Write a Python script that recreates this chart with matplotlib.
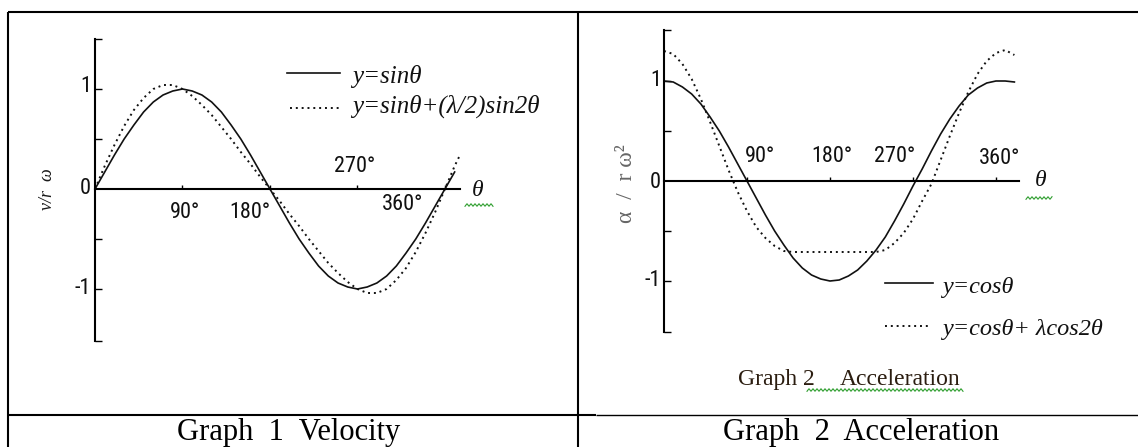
import numpy as np
import matplotlib
matplotlib.use("Agg")
import matplotlib.pyplot as plt

W, H = 1138, 447

# Graph 1 - velocity, y = sin(theta) and y = sin(theta) + (lambda/2) sin(2 theta)
vel_theta = [0, 10, 20, 30, 40, 50, 60, 70, 80, 90, 100, 110, 120, 130, 140, 150, 160, 170, 180,
             190, 200, 210, 220, 230, 240, 250, 260, 270, 280, 290, 300, 310, 320, 330, 340, 350,
             360, 370]
vel_sin = [0.00, 0.17, 0.34, 0.50, 0.64, 0.77, 0.87, 0.94, 0.98, 1.00, 0.98, 0.94, 0.87, 0.77,
           0.64, 0.50, 0.34, 0.17, 0.00, -0.17, -0.34, -0.50, -0.64, -0.77, -0.87, -0.94, -0.98,
           -1.00, -0.98, -0.94, -0.87, -0.77, -0.64, -0.50, -0.34, -0.17, 0.00, 0.17]
vel_theta2 = [0, 10, 20, 30, 40, 50, 60, 70, 80, 90, 100, 110, 120, 130, 140, 150, 160, 170, 180,
              190, 200, 210, 220, 230, 240, 250, 260, 270, 280, 290, 300, 310, 320, 330, 340, 350,
              360, 370, 375]
vel_mod = [0.00, 0.23, 0.44, 0.63, 0.79, 0.91, 1.00, 1.04, 1.04, 1.00, 0.93, 0.84, 0.74, 0.62,
           0.50, 0.37, 0.25, 0.12, 0.00, -0.12, -0.25, -0.37, -0.50, -0.62, -0.74, -0.84, -0.93,
           -1.00, -1.04, -1.04, -1.00, -0.91, -0.79, -0.63, -0.44, -0.23, 0.00, 0.23, 0.33]

# Graph 2 - acceleration, y = cos(theta) and y = cos(theta) + lambda cos(2 theta)
acc_theta = [0, 10, 20, 30, 40, 50, 60, 70, 80, 90, 100, 110, 120, 130, 140, 150, 160, 170, 180,
             190, 200, 210, 220, 230, 240, 250, 260, 270, 280, 290, 300, 310, 320, 330, 340, 350,
             360, 370, 380]
acc_cos = [1.00, 0.99, 0.94, 0.87, 0.77, 0.64, 0.50, 0.34, 0.17, 0.00, -0.17, -0.34, -0.50,
           -0.64, -0.77, -0.87, -0.94, -0.98, -1.00, -0.99, -0.95, -0.89, -0.80, -0.69, -0.56,
           -0.40, -0.23, -0.05, 0.12, 0.30, 0.47, 0.62, 0.75, 0.86, 0.93, 0.98, 1.00, 1.00, 0.99]
acc_mod = [1.30, 1.27, 1.17, 1.02, 0.82, 0.59, 0.35, 0.11, -0.11, -0.30, -0.46, -0.57, -0.65,
           -0.70, -0.71, -0.71, -0.71, -0.71, -0.71, -0.71, -0.71, -0.71, -0.71, -0.71, -0.69,
           -0.62, -0.52, -0.38, -0.20, -0.03, 0.21, 0.45, 0.68, 0.89, 1.07, 1.20, 1.28, 1.31, 1.26]

deg_ticks = [90, 180, 270, 360]
deg_labels = ["90°", "180°", "270°", "360°"]
val_ticks = [1, 0, -1]
val_labels = ["1", "0", "-1"]

NARROW = ["Liberation Sans Narrow", "Roboto Condensed", "Liberation Sans", "DejaVu Sans"]
SERIF = ["Liberation Serif", "DejaVu Serif"]
INK = "#111111"

fig = plt.figure(figsize=(W / 100, H / 100), dpi=100)

# page layer in pixel units (table rules, captions)
bg = fig.add_axes([0, 0, 1, 1])
bg.set_xlim(0, W)
bg.set_ylim(H, 0)
bg.axis("off")


def px_axes(left, top, right, bottom):
    return fig.add_axes([left / W, 1 - bottom / H, (right - left) / W, (bottom - top) / H])


def squiggle(x0, x1, y):
    xs = np.arange(x0, x1 + 0.1, 2.0)
    ys = y + np.where(np.arange(len(xs)) % 2 == 0, 1.3, -1.3)
    bg.plot(xs, ys, color="#2e9e2e", lw=0.8, solid_joinstyle="miter")


def setup(ax, xmax, ylo, yhi):
    ax.set_xlim(0, xmax)
    ax.set_ylim(ylo, yhi)
    ax.patch.set_visible(False)
    for s in ("top", "right"):
        ax.spines[s].set_visible(False)
    ax.spines["bottom"].set_position(("data", 0))
    ax.spines["left"].set_linewidth(1.5)
    ax.spines["bottom"].set_linewidth(1.5)
    ax.set_xticks(deg_ticks)
    ax.set_yticks([ylo, -1, -0.5, 0.5, 1, yhi])
    ax.tick_params(axis="x", direction="in", length=3, width=1, labelbottom=False)
    ax.tick_params(axis="y", direction="in", length=5, width=1, labelleft=False)


def tick_text(ax, xoffs, yoffs, ydx, ydy):
    for v, lab, dx, dy in zip(deg_ticks, deg_labels, xoffs, yoffs):
        ax.annotate(lab, (v, 0), xytext=(dx, dy), textcoords="offset pixels",
                    ha="center", va="center", fontsize=16, family=NARROW,
                    fontstretch="condensed", color=INK)
    for v, lab, dy in zip(val_ticks, val_labels, ydy):
        ax.annotate(lab, (0, v), xytext=(ydx, dy), textcoords="offset pixels",
                    ha="right", va="center", fontsize=16, family=NARROW,
                    fontstretch="condensed", color=INK)


# table rules
bg.plot([8, W], [12, 12], color="black", lw=1.5, solid_capstyle="butt")
bg.plot([8, 8], [12, H], color="black", lw=1.5, solid_capstyle="butt")
bg.plot([578, 578], [12, H], color="black", lw=1.5, solid_capstyle="butt")
bg.plot([8, 596], [414.5, 414.5], color="black", lw=1.5, solid_capstyle="butt")
bg.plot([596, W], [414.5, 414.5], color="black", lw=1.0, solid_capstyle="butt")

# captions
bg.text(289, 440, "Graph  1  Velocity", ha="center", va="baseline", fontsize=22,
        family=SERIF, color="black")
bg.text(861, 440, "Graph  2  Acceleration", ha="center", va="baseline", fontsize=22,
        family=SERIF, color="black")

# ---- graph 1 ----
ax1 = px_axes(95, 39, 460, 341)
setup(ax1, 375.5, -1.52, 1.50)
ax1.plot(vel_theta, vel_sin, color=INK, lw=1.2, clip_on=False)
ax1.plot(vel_theta2, vel_mod, color=INK, lw=1.4, ls=(0, (1, 2)), clip_on=False)
tick_text(ax1, [2.5, -20, -2.5, -42], [-23, -23, 22, -16], -4, [2, 1, 0])

bg.plot([287, 340], [73, 73], color=INK, lw=1.2)
bg.plot([290, 340], [108, 108], color=INK, lw=1.4, ls=(0, (1, 2)))
bg.text(352, 83, "y=sinθ", fontsize=18, style="italic", family=SERIF, va="baseline",
        color=INK)
bg.text(352, 113, "y=sinθ+(λ/2)sin2θ", fontsize=18, style="italic", family=SERIF,
        va="baseline", color=INK)
bg.text(478, 190, "θ", fontsize=17, style="italic", family=SERIF, ha="center", va="center",
        color=INK)
squiggle(465, 493, 205)
bg.text(48, 189, "v/r  ω", fontsize=13, style="italic", family=SERIF, rotation=90,
        ha="center", va="center", color="#1a1a1a")

# ---- graph 2 ----
ax2 = px_axes(664, 30, 1019, 332)
setup(ax2, 385, -1.51, 1.51)
ax2.plot(acc_theta, acc_cos, color=INK, lw=1.2, clip_on=False)
ax2.plot(acc_theta, acc_mod, color=INK, lw=1.4, ls=(0, (1, 2)), clip_on=False)
tick_text(ax2, [13, 2, -18, 4], [24, 24, 24, 23], -3, [1, -1, 0])

bg.plot([885, 933], [283, 283], color=INK, lw=1.2)
bg.plot([885, 930], [326, 326], color=INK, lw=1.4, ls=(0, (1, 2)))
bg.text(942, 293, "y=cosθ", fontsize=17.5, style="italic", family=SERIF, va="baseline",
        color=INK)
bg.text(942, 335, "y=cosθ+ λcos2θ", fontsize=17.5, style="italic", family=SERIF,
        va="baseline", color=INK)
bg.text(1041, 181, "θ", fontsize=17, style="italic", family=SERIF, ha="center", va="center",
        color=INK)
squiggle(1026, 1053, 198)
bg.text(627, 184, "α  /  r ω²", fontsize=17, family=SERIF, rotation=90,
        ha="center", va="center", color="#666666")

bg.text(738, 385, "Graph 2", fontsize=17, family=SERIF, va="baseline", color="#2b1d10")
bg.text(840, 385, "Acceleration", fontsize=17, family=SERIF, va="baseline", color="#2b1d10")
squiggle(807, 963, 390)

fig.savefig("out.png", dpi=100)
